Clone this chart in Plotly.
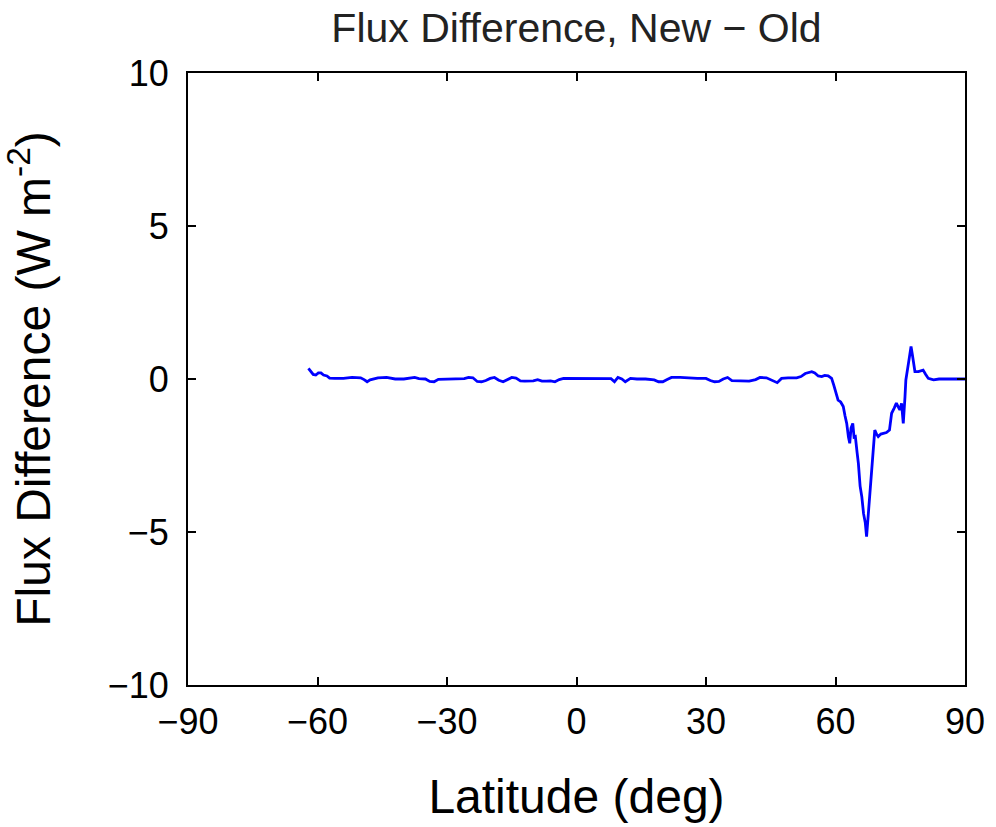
import plotly.graph_objects as go

# Latitude (deg) and flux difference (W m^-2)
latitude = [
    -62.1, -61.5, -61.0, -60.4, -59.8, -59.2, -58.6, -57.8, -57.2, -56, -54, -52, -50,
    -49.2, -48.5, -47.8, -46, -44, -42, -40, -38.5, -37.5, -36.5, -35, -34, -33, -32,
    -30, -28, -26, -25, -24, -23, -22, -21, -20, -19, -18, -17, -16, -15, -14, -13,
    -12, -11, -10, -9, -8, -7, -6, -5, -4, -3, -2, 0, 2, 4, 6, 8, 8.8, 9.6, 10.5, 11.3,
    12.5, 14, 16, 18, 19, 20, 21, 22, 24, 26, 28, 30, 31, 32, 33, 34, 35, 36, 38, 40,
    41.5, 42.5, 44, 45.5, 46.5, 47.5, 49, 51, 52, 53, 54, 54.5, 55.2, 56, 56.8, 57.5,
    58.3, 59.1, 59.6, 59.9, 60.3, 60.6, 61.2, 61.8, 62.2, 62.6, 63.0, 63.3, 63.6, 64.0,
    64.3, 64.6, 65.0, 65.3, 65.7, 66.1, 66.5, 66.9, 67.2, 67.5, 68.0, 68.3, 68.6, 69.1,
    69.5, 69.9, 70.5, 71.1, 71.8, 72.5, 73.0, 73.6, 74.1, 74.5, 74.9, 75.3, 75.7, 76.1,
    76.3, 76.9, 77.2, 77.5, 77.8, 78.0, 78.4, 79.2, 80.3, 80.9, 81.5, 82.7, 84, 86, 88, 90,
]
flux_diff = [
    0.35, 0.25, 0.15, 0.13, 0.20, 0.20, 0.13, 0.10, 0.03, 0.02, 0.02, 0.05, 0.04,
    -0.02, -0.09, -0.03, 0.04, 0.05, 0.00, 0.00, 0.04, 0.05, 0.01, 0.00, -0.08, -0.09, -0.01,
    0.00, 0.00, 0.01, 0.05, 0.04, -0.08, -0.09, -0.05, 0.02, 0.05, -0.04, -0.09, -0.02, 0.05, 0.03, -0.06,
    -0.07, -0.07, -0.06, -0.02, -0.07, -0.07, -0.06, -0.09, -0.02, 0.02, 0.02, 0.02, 0.03, 0.02, 0.02, 0.01, -0.09, 0.05, 0.00, -0.09,
    0.02, 0.00, 0.00, -0.03, -0.09, -0.09, -0.02, 0.05, 0.05, 0.03, 0.02, 0.02, -0.05, -0.09, -0.08, 0.00, 0.05, -0.05, -0.07, -0.07,
    -0.02, 0.05, 0.04, -0.05, -0.12, 0.02, 0.04, 0.04, 0.08, 0.18, 0.23, 0.24, 0.20, 0.10, 0.08, 0.12,
    0.10, 0.02, -0.20, -0.36, -0.55, -0.69, -0.75, -0.90, -1.20, -1.45, -1.90, -2.10, -1.60, -1.45,
    -1.90, -1.88, -2.40, -2.76, -3.50, -3.85, -4.40, -4.70, -5.15, -4.60, -3.63, -3.00, -2.43, -1.67,
    -1.80, -1.88, -1.80, -1.78, -1.75, -1.67, -1.12, -0.95, -0.79, -0.90, -1.01, -0.80, -1.45, -0.58,
    -0.03, 0.51, 0.85, 1.06, 0.80, 0.62, 0.24, 0.24, 0.29, 0.15, 0.02, -0.03, 0.00, 0.00, 0.00, 0.00,
]

x_ticks = [-90, -60, -30, 0, 30, 60, 90]
y_ticks = [-10, -5, 0, 5, 10]

FONT = "Liberation Sans, Arial, Helvetica, sans-serif"

fig = go.Figure()
fig.add_trace(go.Scatter(
    x=latitude, y=flux_diff, mode="lines",
    line=dict(color="#0000FF", width=2.8),
    showlegend=False, hoverinfo="x+y",
))

axis_common = dict(
    showline=True, mirror="allticks", linecolor="black", linewidth=2,
    ticks="inside", ticklen=8, tickwidth=2, tickcolor="black",
    showgrid=False, zeroline=False,
    tickfont=dict(family=FONT, size=36, color="black"),
)

fig.update_xaxes(
    range=[-90, 90], tickvals=x_ticks, ticktext=[str(v).replace("-", "\u2212") for v in x_ticks],
    title=dict(text="Latitude (deg)", font=dict(family=FONT, size=48, color="black"), standoff=38),
    ticklabelstandoff=4,
    **axis_common,
)
fig.update_yaxes(
    range=[-10, 10], tickvals=y_ticks, ticktext=[str(v).replace("-", "\u2212") for v in y_ticks],
    title=dict(text="Flux Difference (W m<sup>-2</sup>)", font=dict(family=FONT, size=48, color="black"), standoff=55),
    ticklabelstandoff=10,
    **axis_common,
)

fig.update_layout(
    width=996, height=827,
    margin=dict(l=188, r=31, t=73, b=142, autoexpand=False),
    paper_bgcolor="white", plot_bgcolor="white",
    title=dict(
        text="Flux Difference, New \u2212 Old",
        font=dict(family=FONT, size=41, color="#222222"),
        x=0.5, xref="paper", xanchor="center",
        y=1 - 28 / 827, yref="container", yanchor="middle",
    ),
)

fig.write_html("out.html")
